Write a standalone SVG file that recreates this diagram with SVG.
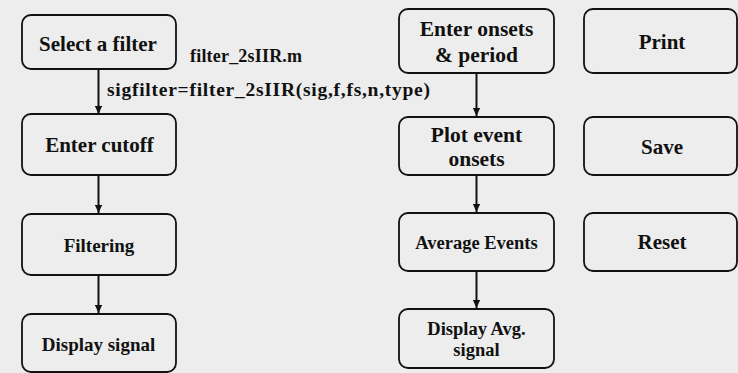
<svg xmlns="http://www.w3.org/2000/svg" width="738" height="373" viewBox="0 0 738 373">
<defs>
<style>
.box{fill:none;stroke:#111;stroke-width:1.8}
.t{font-family:"Liberation Serif","Times New Roman",serif;font-weight:bold;fill:#111;text-anchor:middle}
.lbl{font-family:"Liberation Serif","Times New Roman",serif;font-weight:bold;fill:#111}
.edge{stroke:#111;stroke-width:2;fill:none;marker-end:url(#ah)}
</style>
<marker id="ah" viewBox="0 0 10 10" refX="10" refY="5" markerWidth="4" markerHeight="3.6" orient="auto" markerUnits="strokeWidth" preserveAspectRatio="none">
<path d="M0,0 L10,5 L0,10 z" fill="#111"/>
</marker>
</defs>
<rect width="738" height="373" fill="#ededed"/>
<g id="connectors">
<line class="edge" x1="98.5" y1="69" x2="98.5" y2="114"/>
<line class="edge" x1="98.5" y1="175" x2="98.5" y2="213"/>
<line class="edge" x1="98.5" y1="275" x2="98.5" y2="313"/>
<line class="edge" x1="476.5" y1="73" x2="476.5" y2="116"/>
<line class="edge" x1="476.5" y1="175" x2="476.5" y2="212"/>
<line class="edge" x1="476.5" y1="271" x2="476.5" y2="308"/>
<text class="lbl" x="190" y="61.5" font-size="18" textLength="112">filter_2sIIR.m</text>
<text class="lbl" x="107" y="96" font-size="19.5" textLength="323">sigfilter=filter_2sIIR(sig,f,fs,n,type)</text>
</g>
<g id="select-filter">
<rect class="box" x="22" y="15" width="154" height="54" rx="9"/>
<text class="t" x="98" y="50.5" font-size="21">Select a filter</text>
</g>
<g id="enter-cutoff">
<rect class="box" x="22" y="114" width="154" height="61" rx="9"/>
<text class="t" x="99.5" y="152" font-size="21">Enter cutoff</text>
</g>
<g id="filtering">
<rect class="box" x="22" y="214" width="154" height="61" rx="9"/>
<text class="t" x="99" y="251.5" font-size="19">Filtering</text>
</g>
<g id="display-signal">
<rect class="box" x="22" y="314" width="154" height="58" rx="9"/>
<text class="t" x="98.5" y="351" font-size="19">Display signal</text>
</g>
<g id="enter-onsets">
<rect class="box" x="399" y="9" width="155" height="64" rx="9"/>
<text class="t" x="476.5" y="35.5" font-size="21.5">Enter onsets</text>
<text class="t" x="476.5" y="62" font-size="21.5">&amp; period</text>
</g>
<g id="plot-event">
<rect class="box" x="399" y="117" width="155" height="58" rx="9"/>
<text class="t" x="476.5" y="142" font-size="21.5">Plot event</text>
<text class="t" x="476.5" y="166" font-size="21.5">onsets</text>
</g>
<g id="average-events">
<rect class="box" x="399" y="213" width="155" height="58" rx="9"/>
<text class="t" x="476.5" y="249" font-size="18.5">Average Events</text>
</g>
<g id="display-avg">
<rect class="box" x="399" y="309" width="155" height="59" rx="9"/>
<text class="t" x="476.5" y="335" font-size="18.5">Display Avg.</text>
<text class="t" x="476.5" y="356" font-size="18.5">signal</text>
</g>
<g id="print">
<rect class="box" x="584" y="9" width="153" height="64" rx="9"/>
<text class="t" x="662" y="49" font-size="21">Print</text>
</g>
<g id="save">
<rect class="box" x="584" y="117" width="153" height="58" rx="9"/>
<text class="t" x="662" y="154" font-size="21">Save</text>
</g>
<g id="reset">
<rect class="box" x="584" y="213" width="153" height="58" rx="9"/>
<text class="t" x="662" y="249" font-size="21">Reset</text>
</g>
</svg>
